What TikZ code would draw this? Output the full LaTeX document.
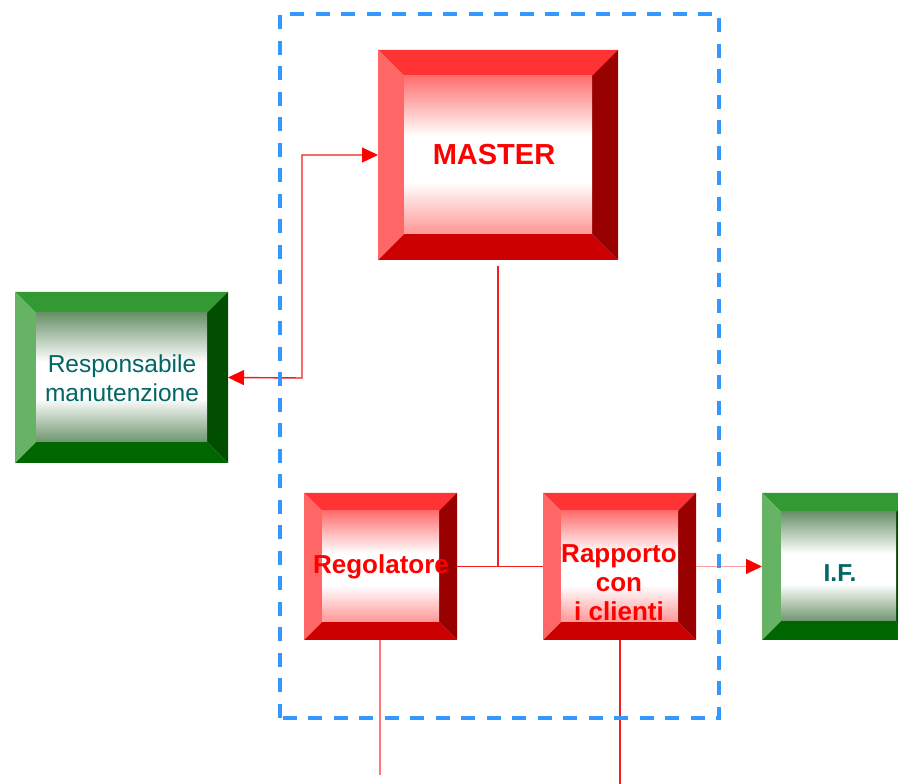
\documentclass[tikz,border=0pt]{standalone}
\usepackage{fontspec}
\setmainfont{Liberation Sans}
\usetikzlibrary{arrows.meta}
\definecolor{Rtop}{RGB}{255,51,51}
\definecolor{Rleft}{RGB}{255,102,102}
\definecolor{Rright}{RGB}{153,0,0}
\definecolor{Rbottom}{RGB}{204,0,0}
\definecolor{Rin}{RGB}{255,110,110}
\definecolor{Rin2}{RGB}{255,150,150}
\definecolor{Gtop}{RGB}{51,153,51}
\definecolor{Gleft}{RGB}{102,179,102}
\definecolor{Gright}{RGB}{0,77,0}
\definecolor{Gbottom}{RGB}{0,102,0}
\definecolor{Gin}{RGB}{105,145,105}
\definecolor{Gin2}{RGB}{110,150,110}
\definecolor{txtred}{RGB}{255,0,0}
\definecolor{teal2}{RGB}{0,102,102}
\definecolor{dashblue}{RGB}{51,153,255}
\definecolor{linered}{RGB}{240,30,30}
\definecolor{lightred}{RGB}{255,120,120}
\definecolor{pinkline}{RGB}{255,160,160}
\pgfdeclareverticalshading{Rshade}{100bp}{color(0bp)=(Rin2); color(25bp)=(Rin2); color(41.5bp)=(white); color(56bp)=(white); color(75bp)=(Rin); color(100bp)=(Rin)}
\pgfdeclareverticalshading{Gshade}{100bp}{color(0bp)=(Gin2); color(25bp)=(Gin2); color(42bp)=(white); color(56bp)=(white); color(75bp)=(Gin); color(100bp)=(Gin)}
\newcommand\bevelbox[3]{%
  \fill[#3top] (#1.north west) -- (#1.north east) -- ([shift={(-#2,-#2)}]#1.north east) -- ([shift={(#2,-#2)}]#1.north west) -- cycle;
  \fill[#3bottom] (#1.south west) -- (#1.south east) -- ([shift={(-#2,#2)}]#1.south east) -- ([shift={(#2,#2)}]#1.south west) -- cycle;
  \fill[#3left] (#1.north west) -- (#1.south west) -- ([shift={(#2,#2)}]#1.south west) -- ([shift={(#2,-#2)}]#1.north west) -- cycle;
  \fill[#3right] (#1.north east) -- (#1.south east) -- ([shift={(-#2,#2)}]#1.south east) -- ([shift={(-#2,-#2)}]#1.north east) -- cycle;
  \shade[shading=#3shade] ([shift={(#2,-#2)}]#1.north west) rectangle ([shift={(-#2,#2)}]#1.south east);
}
\begin{document}
\begin{tikzpicture}[x=1pt,y=1pt,
  boxshape/.style={inner sep=0pt, outer sep=0pt, draw=none},
  redtxt/.style={text=txtred, font=\bfseries\fontsize{26}{29}\selectfont, align=center, inner sep=0pt},
  greentxt/.style={text=teal2, font=\fontsize{24.5}{29}\selectfont, align=center, inner sep=0pt},
  conn/.style={draw=linered, line width=1.4pt},
  bigtip/.tip={Triangle[length=16pt,width=15pt,color=txtred]},
  frame/.style={draw=dashblue, line width=3.5pt, dash pattern=on 14pt off 11.5pt}]
\clip (0,0) rectangle (898,784);
\fill[white] (0,0) rectangle (898,784);
% boxes
\node[boxshape, minimum width=240, minimum height=210] (master) at (498,629) {};
\node[boxshape, minimum width=213, minimum height=171] (resp) at (121.5,406.5) {};
\node[boxshape, minimum width=153, minimum height=147] (rego) at (380.5,217.5) {};
\node[boxshape, minimum width=153, minimum height=147] (rapp) at (619.5,217.5) {};
\node[boxshape, minimum width=153, minimum height=147] (if) at (838.5,217.5) {};
\bevelbox{master}{26}{R}
\bevelbox{resp}{21}{G}
\bevelbox{rego}{18}{R}
\bevelbox{rapp}{18}{R}
\bevelbox{if}{19}{G}
% texts
\node[redtxt, font=\bfseries\fontsize{29}{30}\selectfont] (mastert) at (494,629) {MASTER};
\node[greentxt] (respt) at (122,406) {Responsabile\\manutenzione};
\node[redtxt] (regot) at (381,217) {Regolatore};
\node[redtxt] (rappt) at (619,201) {Rapporto\\con\\i clienti};
\node[greentxt, font=\bfseries\fontsize{24.5}{29}\selectfont] (ift) at (840,211) {I.F.};
% connectors
\coordinate (junc) at (master.south |- rego.east);
\coordinate (bend) at (302,406);
\coordinate (regoend) at (380,9);
\coordinate (rappend) at (620,0);
\draw[conn] ([yshift=-6pt]master.south) -- (junc);
\draw[conn] (rego.east) -- (rapp.east -| rapp.west);
\draw[conn, bigtip-bigtip] (resp.east) -- (bend) |- (master.west);
\draw[draw=pinkline, line width=1.4pt, -bigtip] (rapp.east) -- (if.west);
\draw[draw=lightred, line width=1.4pt] (rego.south -| regoend) -- (regoend);
\draw[conn] (rapp.south -| rappend) -- (rappend);
% dashed frame
\draw[frame] (280,66) rectangle (719,770);
\end{tikzpicture}
\end{document}
